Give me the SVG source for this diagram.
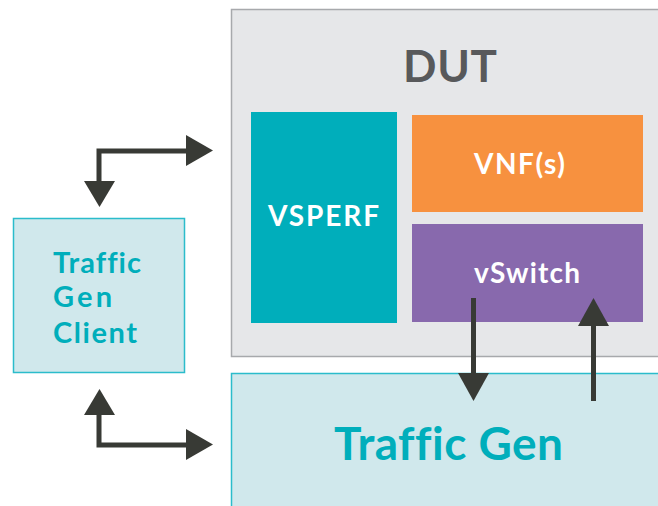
<svg xmlns="http://www.w3.org/2000/svg" width="658" height="506" viewBox="0 0 658 506">
<defs>
<style>
.t{font-family:Lato,"Liberation Sans",sans-serif;font-weight:700;font-variant-ligatures:none}
.w{fill:#ffffff}
.teal{fill:#00aebb}
.conn{stroke:#383a35;stroke-width:5;fill:none}
.head{fill:#383a35}
</style>
</defs>
<rect width="658" height="506" fill="#ffffff"/>
<g id="dut">
<rect x="231.5" y="9.5" width="440" height="347" fill="#e6e7e9" stroke="#a7a9ac" stroke-width="1.5"/>
<text class="t" x="450" y="82" font-size="44" text-anchor="middle" fill="#58595b" textLength="94" lengthAdjust="spacing">DUT</text>
</g>
<g id="vsperf">
<rect x="251" y="112" width="146" height="211" fill="#00aebb"/>
<text class="t w" x="323.5" y="226" font-size="28" text-anchor="middle" textLength="111" lengthAdjust="spacing">VSPERF</text>
</g>
<g id="vnfs">
<rect x="412" y="115" width="231" height="97" fill="#f7913f"/>
<text class="t w" x="519.5" y="174" font-size="28" text-anchor="middle" textLength="91" lengthAdjust="spacing">VNF(s)</text>
</g>
<g id="vswitch">
<rect x="412" y="224" width="231" height="98" fill="#8869ad"/>
<text class="t w" x="527" y="283" font-size="28" text-anchor="middle" textLength="106" lengthAdjust="spacing">vSwitch</text>
</g>
<g id="trafficgen">
<rect x="231.5" y="373.5" width="440" height="140" fill="#d0e8ec" stroke="#2bbccb" stroke-width="1.5"/>
<text class="t teal" x="448.5" y="460" font-size="46" text-anchor="middle" textLength="229" lengthAdjust="spacing">Traffic Gen</text>
</g>
<g id="client">
<rect x="13.5" y="218.5" width="171" height="154" fill="#d0e8ec" stroke="#2bbccb" stroke-width="1.5"/>
<text class="t teal" x="53" y="273" font-size="29" textLength="88" lengthAdjust="spacing">Traffic</text>
<text class="t teal" x="53" y="307" font-size="29" textLength="59" lengthAdjust="spacing">Gen</text>
<text class="t teal" x="53" y="343" font-size="29" textLength="84" lengthAdjust="spacing">Client</text>
</g>
<g id="connectors">
<polyline class="conn" points="99,182 99,151 187,151"/>
<polygon class="head" points="84,181 115,181 99.5,207"/>
<polygon class="head" points="186,135 186,166 213,150.5"/>
<polyline class="conn" points="99,414 99,445 187,445"/>
<polygon class="head" points="84,415 115,415 99.5,389"/>
<polygon class="head" points="186,429 186,460 213,444.5"/>
<line class="conn" x1="473.5" y1="298" x2="473.5" y2="374"/>
<polygon class="head" points="458,373 489,373 473.5,401"/>
<line class="conn" x1="593.5" y1="401" x2="593.5" y2="325"/>
<polygon class="head" points="578,326 609,326 593.5,298"/>
</g>
</svg>
